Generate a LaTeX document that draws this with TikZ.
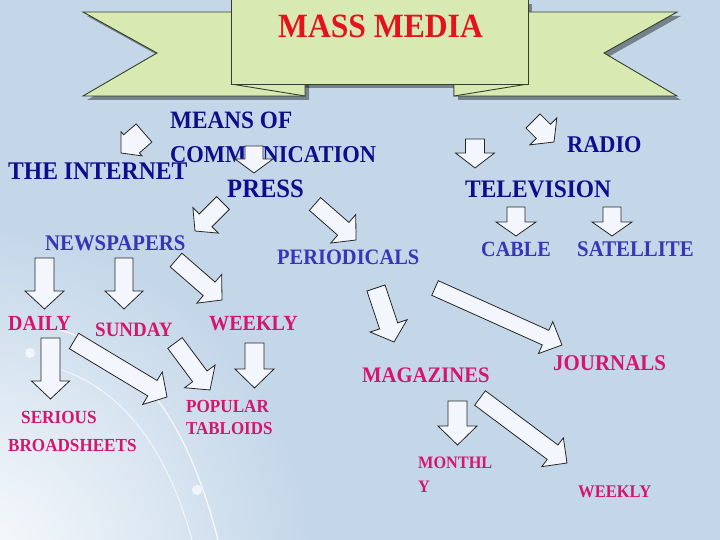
\documentclass[tikz,border=0pt]{standalone}
\usepackage{fontspec}
\setmainfont{Liberation Serif}
\newfontfamily\decor[FakeStretch=0.93]{Liberation Serif}
\usetikzlibrary{calc}
\definecolor{bgblue}{HTML}{C4D7E9}
\definecolor{ribbon}{HTML}{D8EAB2}
\definecolor{ribbonline}{HTML}{34402C}
\definecolor{titlered}{HTML}{E4121C}
\definecolor{navy}{HTML}{0E0E8C}
\definecolor{midblue}{HTML}{3636B6}
\definecolor{pinktxt}{HTML}{D4166E}
\definecolor{arrowfill}{HTML}{F3F6FC}
\newcommand\fsz[1]{\decor\bfseries\fontsize{#1}{#1}\selectfont}
\newcommand\barrowdraw[5]{%
  \coordinate (bam) at ($(#2)!#5!(#1)$);
  \draw[barrow] ($(#1)!#3!90:(#2)$) -- ($(bam)!#3!90:(#2)$) -- ($(bam)!#4!90:(#2)$) -- (#2)
    -- ($(bam)!#4!-90:(#2)$) -- ($(bam)!#3!-90:(#2)$) -- ($(#1)!#3!-90:(#2)$) -- cycle;}
\tikzset{
  barrow/.style={fill=arrowfill, draw=black!85, line width=0.8pt, line join=miter},
  rib/.style={fill=ribbon, draw=ribbonline, line width=0.9pt, line join=miter},
  ribshadow/.style={fill=black, opacity=0.4},
  lbl/.style={anchor=base west, inner sep=0pt},
  dark/.style={lbl, text=navy},
  light/.style={lbl, text=midblue},
  pink/.style={lbl, text=pinktxt}
}
\begin{document}
\begin{tikzpicture}[x=1pt,y=-1pt]
\useasboundingbox (0,0) rectangle (720,540);
% background
\fill[bgblue] (0,0) rectangle (720,540);
\begin{scope}
  \clip (0,0) rectangle (720,540);
  \shade[inner color=white!92!bgblue, outer color=bgblue] (-30,570) circle (340pt);
  \draw[white, opacity=0.75, line width=1.3pt] (60,330) .. controls (130,350) and (185,410) .. (218,540);
  \draw[white, opacity=0.6, line width=1.1pt] (55,368) .. controls (115,385) and (165,440) .. (192,540);
  \fill[white, opacity=0.7] (30,353) circle (5pt);
  \fill[white, opacity=0.7] (197,490) circle (5pt);
\end{scope}
% ribbon shadow
\begin{scope}[shift={(4,4)}]
  \fill[ribshadow] (83,12) -- (305,12) -- (305,96) -- (83,96) -- (157,53) -- cycle;
  \fill[ribshadow] (677,12) -- (454,12) -- (454,96) -- (677,96) -- (604,53) -- cycle;
  \fill[ribshadow] (231,0) rectangle (528,84);
\end{scope}
% ribbon
\draw[rib] (83,12) -- (305,12) -- (305,96) -- (83,96) -- (157,53) -- cycle;
\draw[rib] (677,12) -- (454,12) -- (454,96) -- (677,96) -- (604,53) -- cycle;
\draw[rib] (231,84) -- (305,96) -- (305,84);
\draw[rib] (528,84) -- (454,96) -- (454,84);
\draw[rib] (231,-2) rectangle (528,84);
\node[lbl, text=titlered, font=\fsz{34}] (title) at (278,38) {MASS MEDIA};
% labels
\node[dark, font=\fsz{25}] (means) at (170,129) {MEANS OF};
\node[dark, font=\fsz{24.2}] (comm) at (170,163) {COMMUNICATION};
\node[dark, font=\fsz{25.4}] (internet) at (8,180) {THE INTERNET};
\node[dark, font=\fsz{26.5}] (press) at (227,197) {PRESS};
\node[dark, font=\fsz{24}] (radio) at (567,153) {RADIO};
\node[dark, font=\fsz{25.2}] (tv) at (465,198) {TELEVISION};
\node[light, font=\fsz{22.3}] (news) at (45,251) {NEWSPAPERS};
\node[light, font=\fsz{22}] (period) at (277,264) {PERIODICALS};
\node[light, font=\fsz{21.7}] (cable) at (481,256) {CABLE};
\node[light, font=\fsz{22.4}] (sat) at (577,256) {SATELLITE};
\node[pink, font=\fsz{21.5}] (daily) at (8,330) {DAILY};
\node[pink, font=\fsz{20.4}] (sunday) at (95,336) {SUNDAY};
\node[pink, font=\fsz{21.6}] (weekly) at (209,330) {WEEKLY};
\node[pink, font=\fsz{18.5}] (serious) at (21,423) {SERIOUS};
\node[pink, font=\fsz{18.4}] (broad) at (8,451) {BROADSHEETS};
\node[pink, font=\fsz{18.4}] (popular) at (186,412) {POPULAR};
\node[pink, font=\fsz{18.2}] (tabloids) at (186,434) {TABLOIDS};
\node[pink, font=\fsz{22.2}] (mag) at (362,382) {MAGAZINES};
\node[pink, font=\fsz{22.5}] (journals) at (553,370) {JOURNALS};
\node[pink, font=\fsz{17.5}] (monthl) at (418,468) {MONTHL};
\node[pink, font=\fsz{17.5}] (monthy) at (418,492) {Y};
\node[pink, font=\fsz{17.8}] (weekly2) at (578,497) {WEEKLY};
% arrow end points
\coordinate (a1s) at (144,133); \coordinate (a1e) at (121,153);
\coordinate (a2s) at (254,146); \coordinate (a2e) at (254,173);
\coordinate (a3s) at (533,121); \coordinate (a3e) at (554,142);
\coordinate (a4s) at (475,139); \coordinate (a4e) at (475,168);
\coordinate (a5s) at (516,207); \coordinate (a5e) at (516,236);
\coordinate (a6s) at (612,207); \coordinate (a6e) at (612,236);
\coordinate (a7s) at (223,203); \coordinate (a7e) at (195,231);
\coordinate (a8s) at (315,204); \coordinate (a8e) at (356,240);
\coordinate (a9s) at (44.5,258); \coordinate (a9e) at (44.5,309);
\coordinate (a10s) at (124,258); \coordinate (a10e) at (124,309);
\coordinate (a11s) at (176,260); \coordinate (a11e) at (222,300);
\coordinate (a12s) at (50.5,338); \coordinate (a12e) at (50.5,399);
\coordinate (a13s) at (74,341); \coordinate (a13e) at (167,397);
\coordinate (a14s) at (175,343); \coordinate (a14e) at (210,390);
\coordinate (a15s) at (254.5,343); \coordinate (a15e) at (254.5,388);
\coordinate (a16s) at (376,288); \coordinate (a16e) at (394,342);
\coordinate (a17s) at (435,288); \coordinate (a17e) at (562,345);
\coordinate (a18s) at (457.5,401); \coordinate (a18e) at (457.5,445);
\coordinate (a19s) at (480,398); \coordinate (a19e) at (567,463);
% arrows
\barrowdraw{a1s}{a1e}{12pt}{16pt}{14pt}
\barrowdraw{a2s}{a2e}{9pt}{19pt}{14pt}
\barrowdraw{a3s}{a3e}{10pt}{19pt}{15pt}
\barrowdraw{a4s}{a4e}{9.5pt}{19.5pt}{15pt}
\barrowdraw{a5s}{a5e}{9pt}{20pt}{14pt}
\barrowdraw{a6s}{a6e}{9pt}{20pt}{14pt}
\barrowdraw{a7s}{a7e}{9pt}{18pt}{15pt}
\barrowdraw{a8s}{a8e}{8.5pt}{19pt}{17pt}
\barrowdraw{a9s}{a9e}{9.5pt}{19.5pt}{18pt}
\barrowdraw{a10s}{a10e}{9pt}{19pt}{18pt}
\barrowdraw{a11s}{a11e}{9pt}{19pt}{17pt}
\barrowdraw{a12s}{a12e}{9.5pt}{19pt}{18pt}
\barrowdraw{a13s}{a13e}{9pt}{19pt}{17pt}
\barrowdraw{a14s}{a14e}{9pt}{19pt}{17pt}
\barrowdraw{a15s}{a15e}{9.5pt}{19.5pt}{19pt}
\barrowdraw{a16s}{a16e}{9.5pt}{19.5pt}{17pt}
\barrowdraw{a17s}{a17e}{8pt}{17.5pt}{18pt}
\barrowdraw{a18s}{a18e}{9.5pt}{19.5pt}{19pt}
\barrowdraw{a19s}{a19e}{9pt}{18pt}{18pt}
\end{tikzpicture}
\end{document}
